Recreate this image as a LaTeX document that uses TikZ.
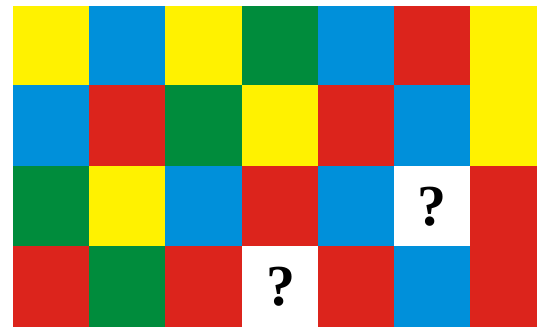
\documentclass[tikz,border=0pt]{standalone}
\usepackage{fontspec}
\setmainfont{Liberation Serif}
\definecolor{cy}{RGB}{255,242,0}
\definecolor{cb}{RGB}{0,144,218}
\definecolor{cg}{RGB}{0,140,60}
\definecolor{cr}{RGB}{220,36,28}
\definecolor{cw}{RGB}{255,255,255}
\tikzset{qmark/.style={font=\fontsize{58}{58}\selectfont\bfseries, text=black, inner sep=0pt}}
\begin{document}
\begin{tikzpicture}[x=1pt,y=-1pt]
\useasboundingbox (0,0) rectangle (537,328);
\fill[white] (0,0) rectangle (537,328);
\def\xs{{13,89,165,242,318,394,470,537}}
\def\ys{{6,85,166,246,327}}
\foreach \r/\row in {0/{cy,cb,cy,cg,cb,cr,cy},1/{cb,cr,cg,cy,cr,cb,cy},2/{cg,cy,cb,cr,cb,cw,cr},3/{cr,cg,cr,cw,cr,cb,cr}}{
  \foreach \c [count=\i from 0] in \row {
    \pgfmathsetmacro\xa{\xs[\i]}
    \pgfmathsetmacro\xb{\xs[\i+1]}
    \pgfmathsetmacro\ya{\ys[\r]}
    \pgfmathsetmacro\yb{\ys[\r+1]}
    \fill[\c] (\xa,\ya) rectangle (\xb,\yb);
  }
}
\node[qmark] (q1) at (432,207) {?};
\node[qmark] (q2) at (281,287) {?};
\end{tikzpicture}
\end{document}
